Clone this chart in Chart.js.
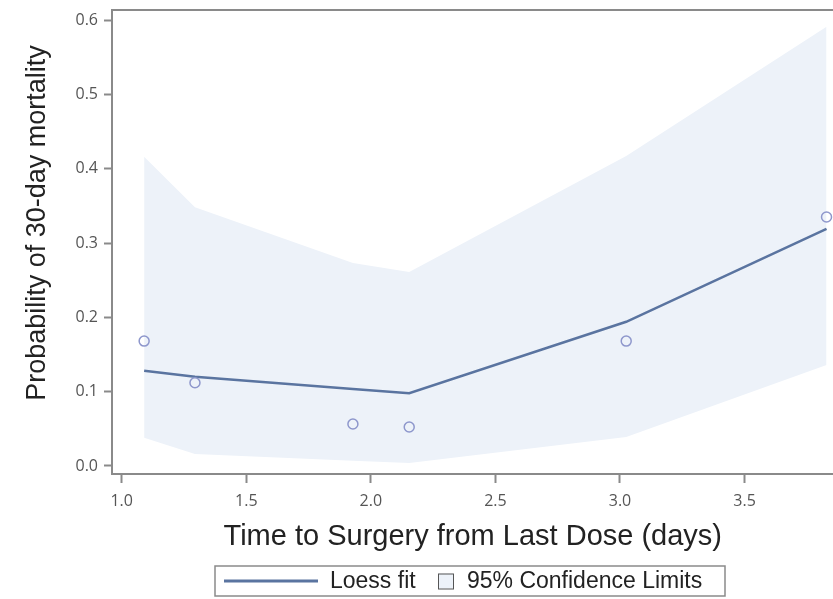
<!DOCTYPE html>
<html>
<head>
<meta charset="utf-8">
<script src="https://cdn.jsdelivr.net/npm/chart.js@4"></script>
<style>
  html, body { margin: 0; padding: 0; background: #fff; overflow: hidden; }
</style>
</head>
<body>
<canvas id="lossChart" width="840" height="599"></canvas>
<script>
// values
const obsX = [1.09, 1.294, 1.928, 2.154, 3.025, 3.829];
const obsY = [0.168, 0.112, 0.0565, 0.0525, 0.168, 0.335];

const fitX = [1.09, 1.294, 1.928, 2.154, 3.025, 3.829];
const fitY = [0.128, 0.120, 0.1036, 0.098, 0.194, 0.319];
const upperCL = [0.416, 0.348, 0.273, 0.261, 0.417, 0.591];
const lowerCL = [0.038, 0.016, 0.007, 0.004, 0.039, 0.136];

const xTicks = [1.0, 1.5, 2.0, 2.5, 3.0, 3.5];
const yTicks = [0.0, 0.1, 0.2, 0.3, 0.4, 0.5, 0.6];

const lineColor = '#5a74a0';
const bandColor = '#edf2f9';
const markerColor = '#8e97cc';
const axisColor = '#8a8a8a';

const toPoints = (xs, ys) => xs.map((x, i) => ({ x: x, y: ys[i] }));

// draws top frame line, y title and the boxed legend
const extras = {
    id: 'extras',
    afterDraw(chart) {
        const c = chart.ctx;
        const area = chart.chartArea;
        c.save();
        c.strokeStyle = axisColor;
        c.lineWidth = 2;
        c.beginPath();
        c.moveTo(area.left, area.top);
        c.lineTo(area.right, area.top);
        c.stroke();

        // y axis title
        c.fillStyle = '#222';
        c.font = '27px "Liberation Sans", Arial, sans-serif';
        c.textAlign = 'center';
        c.textBaseline = 'middle';
        c.translate(38, 223);
        c.rotate(-Math.PI / 2);
        c.fillText('Probability of 30-day mortality', 0, 0);
        c.restore();

        // legend
        c.save();
        c.font = '23px "Liberation Sans", Arial, sans-serif';
        c.textBaseline = 'middle';
        const top = 566, h = 30, left = 215, right = 725;
        const midY = top + h / 2;
        c.fillStyle = '#fff';
        c.fillRect(left, top, right - left, h);
        c.strokeStyle = axisColor;
        c.lineWidth = 1.5;
        c.strokeRect(left, top, right - left, h);

        c.strokeStyle = lineColor;
        c.lineWidth = 3;
        c.beginPath();
        c.moveTo(left + 9, midY);
        c.lineTo(left + 103, midY);
        c.stroke();
        c.fillStyle = '#222';
        c.fillText(chart.data.datasets[0].label, left + 115, midY + 1);

        const sq = 15, sqX = 438;
        c.fillStyle = bandColor;
        c.fillRect(sqX, midY - sq / 2, sq, sq);
        c.strokeStyle = '#555';
        c.lineWidth = 1;
        c.strokeRect(sqX + 0.5, midY - sq / 2 + 0.5, sq, sq);
        c.fillStyle = '#222';
        c.fillText(chart.data.datasets[1].label, 467, midY + 1);
        c.restore();
    }
};

const ctx = document.getElementById('lossChart').getContext('2d');

new Chart(ctx, {
    type: 'scatter',
    data: {
        datasets: [
            {
                type: 'line',
                label: 'Loess fit',
                data: toPoints(fitX, fitY),
                borderColor: lineColor,
                borderWidth: 2.5,
                pointRadius: 0,
                fill: false,
                tension: 0,
                order: 1
            },
            {
                type: 'line',
                label: '95% Confidence Limits',
                data: toPoints(fitX, upperCL),
                borderWidth: 0,
                borderColor: 'rgba(0,0,0,0)',
                backgroundColor: bandColor,
                pointRadius: 0,
                fill: '+1',
                tension: 0,
                order: 3
            },
            {
                type: 'line',
                label: 'lower',
                data: toPoints(fitX, lowerCL),
                borderWidth: 0,
                borderColor: 'rgba(0,0,0,0)',
                pointRadius: 0,
                fill: false,
                tension: 0,
                order: 3
            },
            {
                label: 'Observed',
                data: toPoints(obsX, obsY),
                pointStyle: 'circle',
                pointRadius: 5,
                borderColor: markerColor,
                borderWidth: 1.5,
                backgroundColor: 'rgba(0,0,0,0)',
                order: 0
            }
        ]
    },
    options: {
        responsive: false,
        animation: false,
        layout: { padding: { top: 10, right: 0, bottom: 0, left: 0 } },
        plugins: {
            legend: { display: false },
            tooltip: { enabled: false }
        },
        scales: {
            x: {
                type: 'linear',
                min: 0.961,
                max: 3.857,
                afterBuildTicks: scale => { scale.ticks = xTicks.map(v => ({ value: v })); },
                afterFit: scale => {
                    scale.height = 125;
                    scale.paddingLeft = 0;
                    scale.paddingRight = 0;
                },
                grid: { drawOnChartArea: false, drawTicks: true, tickLength: 9, tickWidth: 2, tickColor: axisColor },
                border: { display: true, color: axisColor, width: 2 },
                ticks: {
                    padding: 9,
                    color: '#555',
                    font: { family: '"Open Sans", sans-serif', size: 16 },
                    callback: v => v.toFixed(1)
                },
                title: {
                    display: true,
                    text: 'Time to Surgery from Last Dose (days)',
                    color: '#222',
                    font: { family: '"Liberation Sans", Arial, sans-serif', size: 29 },
                    padding: { top: 0, bottom: 45 }
                }
            },
            y: {
                type: 'linear',
                min: -0.0108,
                max: 0.6135,
                afterBuildTicks: scale => { scale.ticks = yTicks.map(v => ({ value: v })); },
                afterFit: scale => {
                    scale.width = 112;
                    scale.paddingTop = 0;
                    scale.paddingBottom = 0;
                },
                grid: { drawOnChartArea: false, drawTicks: true, tickLength: 8, tickWidth: 2, tickColor: axisColor },
                border: { display: true, color: axisColor, width: 2 },
                ticks: {
                    padding: 6,
                    color: '#555',
                    font: { family: '"Open Sans", sans-serif', size: 16 },
                    callback: v => v.toFixed(1)
                },
                title: { display: false }
            }
        }
    },
    plugins: [extras]
});
</script>
</body>
</html>
